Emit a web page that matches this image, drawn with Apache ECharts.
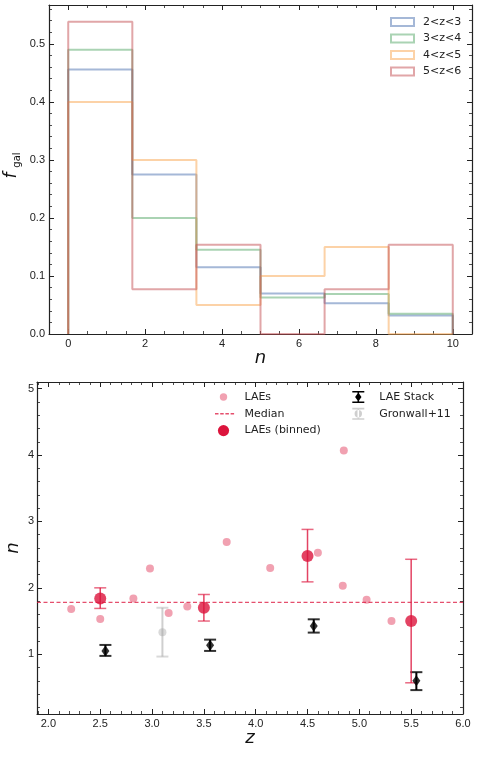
<!DOCTYPE html>
<html>
<head>
<meta charset="utf-8">
<script src="https://cdn.jsdelivr.net/npm/echarts@6/dist/echarts.min.js"></script>
<style>
  html, body { margin: 0; padding: 0; background: #fff; }
  #wrap { position: relative; width: 477px; height: 757px; }
  #top { position: absolute; left: 0; top: 0; width: 477px; height: 372px; }
  #bottom { position: absolute; left: 0; top: 372px; width: 477px; height: 385px; }
</style>
</head>
<body>
<div id="wrap"><div id="top"></div><div id="bottom"></div></div>
<script>
// ---- top panel: fraction of galaxies per Sersic-n bin ----
const binEdges = [0, 1.667, 3.333, 5, 6.667, 8.333, 10];
const zLabels = ['2<z<3', '3<z<4', '4<z<5', '5<z<6'];
const fGal23 = [0.456, 0.275, 0.115, 0.070, 0.053, 0.032];
const fGal34 = [0.490, 0.200, 0.145, 0.063, 0.069, 0.035];
const fGal45 = [0.400, 0.300, 0.050, 0.100, 0.150, 0.000];
const fGal56 = [0.538, 0.077, 0.154, 0.000, 0.077, 0.154];

// ---- bottom panel: n vs z ----
const laeZ = [2.22, 2.50, 2.82, 2.98, 3.16, 3.34, 3.72, 4.14, 4.60, 4.84, 4.85, 5.07, 5.31];
const laeN = [1.68, 1.53, 1.84, 2.29, 1.62, 1.72, 2.69, 2.30, 2.53, 2.03, 4.07, 1.82, 1.50];
const medianN = 1.78;
const binZ = [2.5, 3.5, 4.5, 5.5];
const binN = [1.84, 1.70, 2.48, 1.50];
const binLo = [1.69, 1.50, 2.09, 0.57];
const binHi = [2.00, 1.90, 2.88, 2.43];
const stackZ = [2.55, 3.56, 4.56, 5.55];
const stackN = [1.05, 1.135, 1.425, 0.60];
const stackLo = [0.975, 1.05, 1.326, 0.46];
const stackHi = [1.14, 1.22, 1.526, 0.73];
const gronZ = [3.1];
const gronN = [1.33];
const gronLo = [0.965];
const gronHi = [1.70];
const zMin = 1.89, zMax = 6.0;

const FONT = 'DejaVu Sans';
const AX = '#222';
const histColors = ['rgba(76,114,176,0.5)', 'rgba(85,168,104,0.5)', 'rgba(250,165,80,0.5)', 'rgba(196,78,82,0.5)'];
const LAE_COL = 'rgba(220,20,60,0.5)';
const MED_COL = 'rgba(220,20,60,0.75)';
const CRIMSON = '#dc143c';
const BIN_ERR = 'rgba(220,20,60,0.8)';
const GRON_COL = 'rgba(160,160,160,0.5)';

// axis pair (label side + mirrored side), ticks inside, minor ticks too
function axisPair(dim, o) {
  const sides = dim === 'x' ? ['bottom', 'top'] : ['left', 'right'];
  return sides.map((pos, s) => ({
    type: 'value', gridIndex: 0, position: pos, min: o.min, max: o.max, splitNumber: o.split, z: 3,
    axisLine: { show: true, onZero: false, lineStyle: { color: AX, width: 1.2 } },
    splitLine: { show: false },
    axisTick: { show: true, inside: true, length: 5, lineStyle: { color: AX, width: 1 } },
    minorTick: { show: true, splitNumber: o.minor, length: 3, lineStyle: { color: AX, width: 0.8 } },
    axisLabel: {
      show: s === 0, formatter: o.fmt, margin: o.margin, color: '#222', fontSize: 11,
      showMinLabel: o.showMin, showMaxLabel: o.showMax
    }
  }));
}

function stepPoints(vals) {
  const pts = [[binEdges[0], 0]];
  vals.forEach((v, i) => { pts.push([binEdges[i], v], [binEdges[i + 1], v]); });
  pts.push([binEdges[binEdges.length - 1], 0]);
  return pts;
}

const pair = (xs, ys) => xs.map((x, i) => [x, ys[i]]);

// error bars: vertical segments (broken with '-') plus flat caps
function errorBars(name, xs, lo, hi, color, width) {
  return [
    {
      type: 'line', name, silent: true, symbol: 'none', connectNulls: false,
      data: xs.flatMap((x, i) => [[x, lo[i]], [x, hi[i]], [x, '-']]),
      lineStyle: { color, width }, itemStyle: { color }
    },
    {
      type: 'scatter', name, silent: true, symbol: 'rect', symbolSize: [12, width],
      data: pair(xs, lo).concat(pair(xs, hi)), itemStyle: { color }
    }
  ];
}

// legend icons, all drawn in a 22x12 box (the two bare moves fix the box)
const BOX = 'M0 0 M22 12 ';
const circ = (cx, cy, r) => `M${cx - r} ${cy} A${r} ${r} 0 1 0 ${cx + r} ${cy} A${r} ${r} 0 1 0 ${cx - r} ${cy} Z `;
const rect = (x, y, w, h) => `M${x} ${y} L${x + w} ${y} L${x + w} ${y + h} L${x} ${y + h} Z `;
const errIcon = rect(5, 0, 12, 1.6) + rect(5, 10.4, 12, 1.6) + rect(10.2, 0, 1.6, 12);
const iconLAE = 'path://' + BOX + circ(11, 6, 3.7);
const iconMedian = 'path://' + BOX + rect(2.5, 5.3, 3.5, 1.4) + rect(7.7, 5.3, 3.5, 1.4) + rect(12.9, 5.3, 3.5, 1.4) + rect(18.1, 5.3, 3.5, 1.4);
const iconBinned = 'path://' + BOX + circ(11, 6, 5.6);
const iconStack = 'path://' + BOX + errIcon + 'M11 1.5 L14.2 6 L11 10.5 L7.8 6 Z';
const iconGron = 'path://' + BOX + errIcon + circ(11, 6, 3.7);

const legendText = { fontSize: 11, color: '#222', fontFamily: FONT, lineHeight: 12, padding: [0, 0, 0, 5] };
const titleStyle = (text, size, italic) => ({
  text, fontStyle: italic ? 'italic' : 'normal', fontSize: size, fontFamily: FONT, fill: '#111', align: 'center', verticalAlign: 'middle'
});

// ---------- top chart ----------
const topChart = echarts.init(document.getElementById('top'));
topChart.setOption({
  animation: false,
  grid: { left: 49, top: 5, width: 423, height: 329, outerBoundsMode: 'none' },
  xAxis: axisPair('x', { min: -0.5, max: 10.5, split: 5, minor: 4, fmt: v => String(v), margin: 4, showMin: false, showMax: false }),
  yAxis: axisPair('y', { min: 0, max: 0.567, split: 5, minor: 5, fmt: v => Number(v).toFixed(1), margin: 4, showMin: true, showMax: false }),
  legend: {
    orient: 'vertical', left: 390, top: 16, padding: 0, itemWidth: 23, itemHeight: 8, itemGap: 4.5,
    icon: 'rect', selectedMode: false, textStyle: { ...legendText, padding: [0, 0, 0, 4] },
    data: zLabels.map((name, i) => ({
      name, itemStyle: { color: 'rgba(0,0,0,0)', borderColor: histColors[i], borderWidth: 2 }
    }))
  },
  graphic: [
    { type: 'text', x: 12, y: 175.5, rotation: Math.PI / 2, silent: true, style: titleStyle('f', 17, true) },
    { type: 'text', x: 17, y: 160, rotation: Math.PI / 2, silent: true, style: titleStyle('gal', 10, false) },
    { type: 'text', x: 260.5, y: 358.5, silent: true, style: titleStyle('n', 18, true) }
  ],
  series: [fGal23, fGal34, fGal45, fGal56].map((vals, i) => ({
    type: 'line', name: zLabels[i],
    data: stepPoints(vals), symbol: 'none', silent: true,
    lineStyle: { color: histColors[i], width: 2 }, itemStyle: { color: histColors[i] }
  }))
});

// ---------- bottom chart (div starts at y = 372) ----------
const botChart = echarts.init(document.getElementById('bottom'));
botChart.setOption({
  animation: false,
  grid: { left: 37, top: 10, width: 426, height: 332, outerBoundsMode: 'none' },
  xAxis: axisPair('x', { min: zMin, max: zMax, split: 8, minor: 5, fmt: v => Number(v).toFixed(1), margin: 4, showMin: false, showMax: true }),
  yAxis: axisPair('y', { min: 0.1, max: 5.1, split: 5, minor: 5, fmt: v => String(v), margin: 3, showMin: false, showMax: false }),
  legend: [
    {
      orient: 'vertical', left: 212.5, top: 19, padding: 0, itemWidth: 22, itemHeight: 12, itemGap: 4.8,
      selectedMode: false, textStyle: legendText,
      data: [
        { name: 'LAEs', icon: iconLAE, itemStyle: { color: LAE_COL, borderWidth: 0 } },
        { name: 'Median', icon: iconMedian, itemStyle: { color: MED_COL, borderWidth: 0 } },
        { name: 'LAEs (binned)', icon: iconBinned, itemStyle: { color: CRIMSON, borderWidth: 0 } }
      ]
    },
    {
      orient: 'vertical', left: 347.3, top: 19, padding: 0, itemWidth: 22, itemHeight: 12, itemGap: 4.8,
      selectedMode: false, textStyle: legendText,
      data: [
        { name: 'LAE Stack', icon: iconStack, itemStyle: { color: '#000', borderWidth: 0 } },
        { name: 'Gronwall+11', icon: iconGron, itemStyle: { color: GRON_COL, borderWidth: 0 } }
      ]
    }
  ],
  graphic: [
    { type: 'text', x: 13.5, y: 176, rotation: Math.PI / 2, silent: true, style: titleStyle('n', 18, true) },
    { type: 'text', x: 250, y: 366.5, silent: true, style: titleStyle('z', 18, true) }
  ],
  series: [
    {
      type: 'scatter', name: 'LAEs', silent: true,
      data: pair(laeZ, laeN), symbolSize: 8, itemStyle: { color: LAE_COL }
    },
    {
      type: 'line', name: 'Median', silent: true, symbol: 'none',
      data: [[zMin, medianN], [zMax, medianN]],
      lineStyle: { color: MED_COL, width: 1.2, type: [4, 2.5] }, itemStyle: { color: MED_COL }
    },
    ...errorBars('LAEs (binned)', binZ, binLo, binHi, BIN_ERR, 1.5),
    {
      type: 'scatter', name: 'LAEs (binned)', silent: true,
      data: pair(binZ, binN), symbolSize: 12, itemStyle: { color: CRIMSON }
    },
    ...errorBars('LAE Stack', stackZ, stackLo, stackHi, '#000', 2),
    {
      type: 'scatter', name: 'LAE Stack', silent: true,
      data: pair(stackZ, stackN), symbol: 'diamond', symbolSize: [8, 11], itemStyle: { color: '#000' }
    },
    ...errorBars('Gronwall+11', gronZ, gronLo, gronHi, GRON_COL, 2),
    {
      type: 'scatter', name: 'Gronwall+11', silent: true,
      data: pair(gronZ, gronN), symbolSize: 8, itemStyle: { color: GRON_COL }
    }
  ]
});
</script>
</body>
</html>
